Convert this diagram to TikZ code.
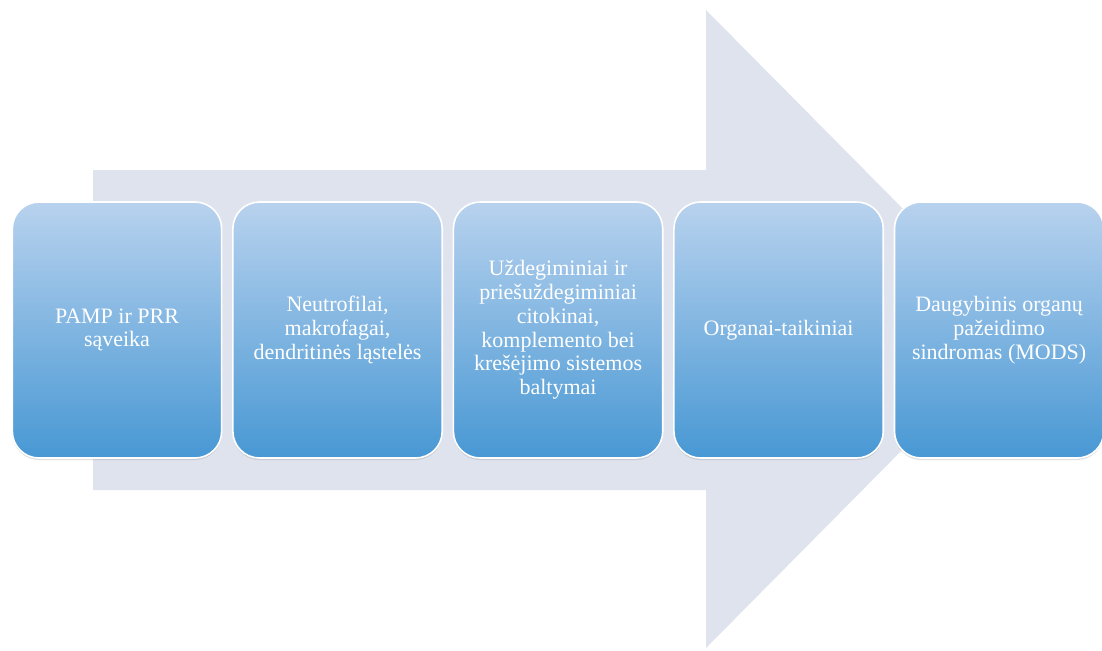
\documentclass[tikz,border=0pt]{standalone}
\usepackage{fontspec}
\setmainfont{Liberation Serif}
\usetikzlibrary{positioning,shadows}
\definecolor{arrowgrey}{RGB}{223,227,238}
\definecolor{boxtop}{RGB}{184,210,238}
\definecolor{boxbottom}{RGB}{72,152,212}
\begin{document}
\begin{tikzpicture} [
                x=0.75pt, y=-0.75pt,
                stepbox/.style={rounded corners=20pt,top color=boxtop,bottom color=boxbottom,
                    draw=white,line width=1.2pt,minimum width=157pt,minimum height=192pt,
                    align=center,text=white,font=\fontsize{16.5}{17.8}\selectfont,
                    drop shadow={shadow xshift=0pt,shadow yshift=-1.5pt,opacity=0.25}},
                bigarrow/.style={fill=arrowgrey},
                node distance=7.2pt,
            ]
            \useasboundingbox (0,0) rectangle (1102,650);
            % First the big arrow in the background
            \path[bigarrow] (93,170) -- (706,170) -- (706,10) -- (1022,329)
                -- (706,648) -- (706,490) -- (93,490) -- cycle;
            % Then the boxes, each one right of the previous
            \node[stepbox] (pamp) at (117,330) {PAMP ir PRR\\ sąveika};
            \foreach \name/\prev/\txt in {
                    cells/pamp/{Neutrofilai,\\ makrofagai,\\ dendritinės ląstelės},
                    cyto/cells/{Uždegiminiai ir\\ priešuždegiminiai\\ citokinai,\\ komplemento bei\\ krešėjimo sistemos\\ baltymai},
                    organs/cyto/{Organai-taikiniai},
                    mods/organs/{Daugybinis organų\\ pažeidimo\\ sindromas (MODS)}}
                \node[stepbox,right=of \prev] (\name) {\txt};
        \end{tikzpicture}
\end{document}
